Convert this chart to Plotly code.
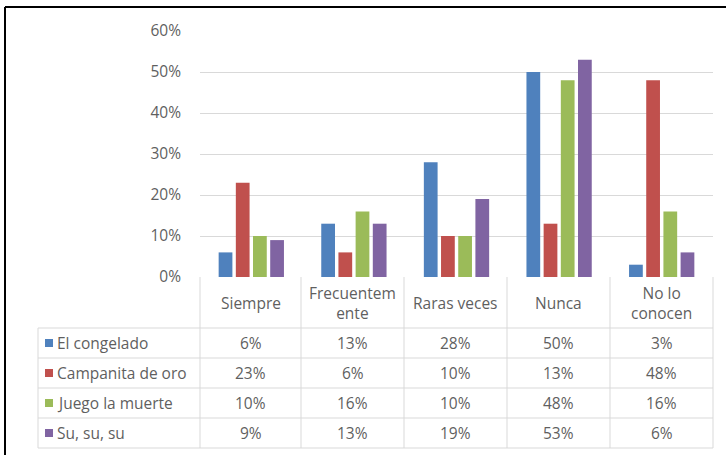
import plotly.graph_objects as go

categories = ["Siempre", "Frecuentem<br>ente", "Raras veces", "Nunca", "No lo<br>conocen"]
series_names = ["El congelado", "Campanita de oro", "Juego la muerte", "Su, su, su"]
el_congelado = [6, 13, 28, 50, 3]
campanita_de_oro = [23, 6, 10, 13, 48]
juego_la_muerte = [10, 16, 10, 48, 16]
su_su_su = [9, 13, 19, 53, 6]
tick_vals = [0, 10, 20, 30, 40, 50, 60]
tick_text = ["0%", "10%", "20%", "30%", "40%", "50%", "60%"]

series_values = [el_congelado, campanita_de_oro, juego_la_muerte, su_su_su]
colors = ["#4F81BD", "#C0504D", "#9BBB59", "#8064A2"]

W, H = 726, 455
L, R, T, B = 200, 713, 31, 277
FONT = "Open Sans, Lato, sans-serif"
FS = 15.5
TXT = "#5f5f5f"
GRID = "#d9d9d9"

def px(x):
    return (x - L) / (R - L)

def py(y):
    return (B - y) / (B - T)

fig = go.Figure()
for name, vals, c in zip(series_names, series_values, colors):
    fig.add_trace(go.Bar(x=list(range(len(categories))), y=vals, name=name,
                         marker=dict(color=c, line=dict(width=0)), hoverinfo="skip"))

shapes = []
annotations = []

# table lines
col_edges = [200, 301, 404, 507, 610, 713]
row_edges = [328, 358, 388, 418, 448]
for xe in col_edges:
    shapes.append(dict(type="line", xref="paper", yref="paper", x0=px(xe), x1=px(xe),
                       y0=py(B), y1=py(448), line=dict(color=GRID, width=1)))
shapes.append(dict(type="line", xref="paper", yref="paper", x0=px(38), x1=px(38),
                   y0=py(328), y1=py(448), line=dict(color=GRID, width=1)))
for ye in row_edges:
    shapes.append(dict(type="line", xref="paper", yref="paper", x0=px(38), x1=px(713),
                       y0=py(ye), y1=py(ye), line=dict(color=GRID, width=1)))

# outer black border (left and top)
shapes.append(dict(type="line", xref="paper", yref="paper", x0=px(5), x1=px(5),
                   y0=py(7), y1=py(460), line=dict(color="black", width=2)))
shapes.append(dict(type="line", xref="paper", yref="paper", x0=px(5), x1=px(730),
                   y0=py(7), y1=py(7), line=dict(color="black", width=2)))

# header texts
for i, cat in enumerate(categories):
    cx = (col_edges[i] + col_edges[i + 1]) / 2
    annotations.append(dict(xref="paper", yref="paper", x=px(cx), y=py(302.5), text=cat,
                            showarrow=False, xanchor="center", yanchor="middle",
                            font=dict(family=FONT, size=FS, color=TXT)))

# rows
for r, (name, vals, c) in enumerate(zip(series_names, series_values, colors)):
    cy = (row_edges[r] + row_edges[r + 1]) / 2
    shapes.append(dict(type="rect", xref="paper", yref="paper", x0=px(45), x1=px(53),
                       y0=py(cy - 4), y1=py(cy + 4), fillcolor=c, line=dict(width=0)))
    annotations.append(dict(xref="paper", yref="paper", x=px(55), y=py(cy), text=name,
                            showarrow=False, xanchor="left", yanchor="middle",
                            font=dict(family=FONT, size=FS, color=TXT)))
    for i, v in enumerate(vals):
        cx = (col_edges[i] + col_edges[i + 1]) / 2
        annotations.append(dict(xref="paper", yref="paper", x=px(cx), y=py(cy), text=f"{v}%",
                                showarrow=False, xanchor="center", yanchor="middle",
                                font=dict(family=FONT, size=FS, color=TXT)))

fig.update_layout(
    width=W, height=H,
    margin=dict(l=L, r=W - R, t=T, b=H - B, pad=0),
    paper_bgcolor="white", plot_bgcolor="white",
    barmode="group", bargap=0.33, bargroupgap=0.2,
    showlegend=False,
    shapes=shapes, annotations=annotations,
    xaxis=dict(range=[-0.5, 4.5], showticklabels=False, showgrid=False, zeroline=False,
               showline=False, ticks=""),
    yaxis=dict(range=[0, 60], tickvals=tick_vals, ticktext=tick_text, showgrid=True,
               gridcolor=GRID, gridwidth=1, zeroline=False, showline=False,
               ticks="", ticklabelstandoff=18,
               tickfont=dict(family=FONT, size=FS, color=TXT)),
)

fig.write_html("out.html", config={"displayModeBar": False},
               post_script="document.body.style.margin='0';")
